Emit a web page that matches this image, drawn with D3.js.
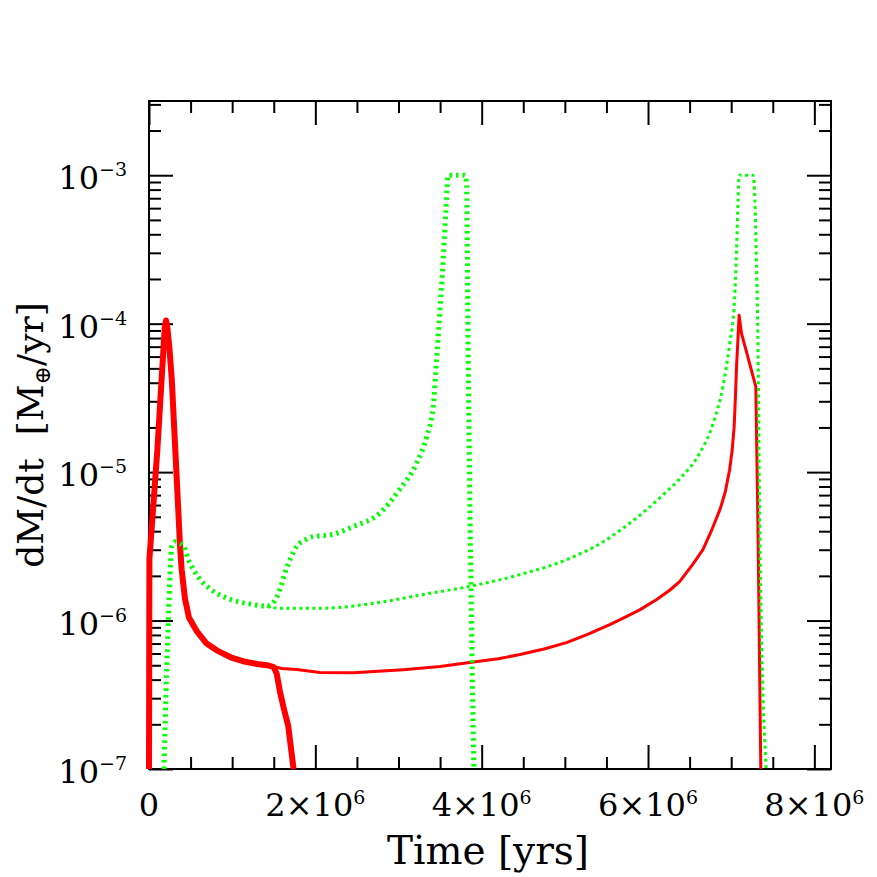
<!DOCTYPE html>
<html>
<head>
<meta charset="utf-8">
<script src="https://cdn.jsdelivr.net/npm/d3@7"></script>
<style>
  body { margin: 0; background: #fff; }
  svg text { font-family: 'DejaVu Serif', serif; fill: #000; }
</style>
</head>
<body>
<script>
// time in units of 10^6 yr, accretion rate in Earth masses per yr
const redThickTime = [0, 0.005, 0.10, 0.172, 0.19, 0.205, 0.22, 0.244, 0.274, 0.334, 0.373, 0.393, 0.433, 0.48, 0.573, 0.693, 0.814, 1.0, 1.14, 1.3, 1.42, 1.5, 1.535, 1.575, 1.625, 1.674, 1.738];
const redThickRate = [1e-7, 2.6e-6, 1.4e-5, 6.5e-5, 9.5e-5, 1.05e-4, 9.5e-5, 7.0e-5, 4.2e-5, 8.9e-6, 3.2e-6, 2.2e-6, 1.4e-6, 1.05e-6, 8.5e-7, 7.0e-7, 6.3e-7, 5.6e-7, 5.3e-7, 5.1e-7, 5.0e-7, 4.85e-7, 4.4e-7, 3.3e-7, 2.5e-7, 1.95e-7, 1e-7];

const redThinTime = [1.42, 1.6, 1.775, 2.055, 2.456, 3.057, 3.5, 3.9, 4.2, 4.46, 4.75, 5.02, 5.28, 5.54, 5.72, 5.9, 6.1, 6.26, 6.38, 6.54, 6.66, 6.76, 6.87, 6.93, 6.98, 7.01, 7.035, 7.05, 7.064, 7.08, 7.095, 7.124, 7.296, 7.323, 7.356];
const redThinRate = [5.0e-7, 4.75e-7, 4.68e-7, 4.46e-7, 4.45e-7, 4.67e-7, 4.9e-7, 5.25e-7, 5.53e-7, 5.9e-7, 6.43e-7, 7.1e-7, 8.1e-7, 9.4e-7, 1.05e-6, 1.18e-6, 1.38e-6, 1.6e-6, 1.83e-6, 2.4e-6, 3.0e-6, 4.0e-6, 5.7e-6, 7.4e-6, 1.03e-5, 1.38e-5, 2.0e-5, 3.1e-5, 5.1e-5, 7.6e-5, 1.14e-4, 8.6e-5, 3.77e-5, 3.9e-6, 1e-7];

const greenThickTime = [0.18, 0.193, 0.233, 0.274, 0.314, 0.375, 0.415, 0.47, 0.535, 0.63, 0.737, 0.98, 1.22, 1.42, 1.54, 1.66, 1.775, 1.88, 1.974, 2.178, 2.456, 2.776, 3.01, 3.218, 3.338, 3.417, 3.458, 3.498, 3.537, 3.57, 3.597, 3.7, 3.798, 3.818, 3.838, 3.867, 3.906];
const greenThickRate = [1e-7, 1.93e-7, 1.01e-6, 3.16e-6, 3.4e-6, 3.3e-6, 3.2e-6, 2.6e-6, 2.2e-6, 1.85e-6, 1.63e-6, 1.39e-6, 1.29e-6, 1.25e-6, 1.45e-6, 2.3e-6, 3.15e-6, 3.5e-6, 3.68e-6, 3.77e-6, 4.3e-6, 5.3e-6, 7.6e-6, 1.15e-5, 1.73e-5, 2.76e-5, 5.7e-5, 1.23e-4, 2.68e-4, 5.8e-4, 1e-3, 1e-3, 1e-3, 8.8e-4, 5.7e-5, 2.57e-6, 1e-7];

const greenThinTime = [1.42, 1.57, 2.055, 2.857, 3.3, 3.858, 4.46, 5.02, 5.5, 5.75, 5.98, 6.2, 6.38, 6.62, 6.78, 6.9, 6.98, 7.04, 7.064, 7.083, 7.095, 7.263, 7.28, 7.3, 7.323, 7.344, 7.42];
const greenThinRate = [1.25e-6, 1.21e-6, 1.21e-6, 1.35e-6, 1.5e-6, 1.7e-6, 2.04e-6, 2.57e-6, 3.5e-6, 4.4e-6, 5.57e-6, 7.2e-6, 9.0e-6, 1.34e-5, 2.1e-5, 3.76e-5, 7.2e-5, 1.44e-4, 3.1e-4, 6.8e-4, 1e-3, 1e-3, 8e-4, 3.1e-4, 6.6e-5, 3.9e-6, 1e-7];

// tick labels
const xTickValues = [0, 2, 4, 6, 8];
const xTickMantissas = ['0', '2', '4', '6', '8'];
const yTickExponents = [-7, -6, -5, -4, -3];

const render = () => {
  const width = 877;
  const height = 877;
  const margin = { top: 101, right: 46, bottom: 108, left: 149 };
  const innerWidth = width - margin.left - margin.right;
  const innerHeight = height - margin.top - margin.bottom;

  const svg = d3.select('body')
    .append('svg')
    .attr('width', width)
    .attr('height', height);

  const plot = svg.append('g')
    .attr('transform', `translate(${margin.left}, ${margin.top})`);

  const xScale = d3.scaleLinear()
    .domain([0, 8.2])
    .range([0, innerWidth]);

  const yScale = d3.scaleLog()
    .domain([1e-7, Math.pow(10, -2.5)])
    .range([innerHeight, 0]);

  // minor tick positions
  const xMinor = d3.range(0.5, 8.2, 0.5).filter(v => v % 2 !== 0);
  const yMinor = [];
  yTickExponents.forEach(e => {
    for (let k = 2; k <= 9; k++) {
      const v = k * Math.pow(10, e);
      if (v <= Math.pow(10, -2.5)) yMinor.push(v);
    }
  });

  const addAxis = (axis, transform) => {
    const g = plot.append('g').attr('transform', transform).call(axis);
    g.select('.domain').remove();
    g.selectAll('line').attr('stroke', '#000').attr('stroke-width', 2);
    g.selectAll('text').remove();
  };

  addAxis(d3.axisBottom(xScale).tickValues(xTickValues).tickSize(-24), `translate(0, ${innerHeight})`);
  addAxis(d3.axisBottom(xScale).tickValues(xMinor).tickSize(-12), `translate(0, ${innerHeight})`);
  addAxis(d3.axisTop(xScale).tickValues(xTickValues).tickSize(-24), 'translate(0, 0)');
  addAxis(d3.axisTop(xScale).tickValues(xMinor).tickSize(-12), 'translate(0, 0)');
  const yMajor = yTickExponents.map(e => Math.pow(10, e));
  addAxis(d3.axisLeft(yScale).tickValues(yMajor).tickSize(-24), 'translate(0, 0)');
  addAxis(d3.axisLeft(yScale).tickValues(yMinor).tickSize(-12), 'translate(0, 0)');
  addAxis(d3.axisRight(yScale).tickValues(yMajor).tickSize(-24), `translate(${innerWidth}, 0)`);
  addAxis(d3.axisRight(yScale).tickValues(yMinor).tickSize(-12), `translate(${innerWidth}, 0)`);

  // frame
  plot.append('rect')
    .attr('width', innerWidth)
    .attr('height', innerHeight)
    .attr('fill', 'none')
    .attr('stroke', '#000')
    .attr('stroke-width', 2);

  // x tick labels
  xTickValues.forEach((v, i) => {
    const t = plot.append('text')
      .attr('x', xScale(v))
      .attr('y', innerHeight + 47)
      .attr('text-anchor', 'middle')
      .style('font-size', '32px');
    if (v === 0) {
      t.text(xTickMantissas[i]);
    } else {
      t.append('tspan').text(xTickMantissas[i] + '\u00d710');
      t.append('tspan').attr('dy', -12).style('font-size', '19px').text('6');
    }
  });

  // y tick labels
  yTickExponents.forEach(e => {
    const t = plot.append('text')
      .attr('x', -22)
      .attr('y', yScale(Math.pow(10, e)) + 14)
      .attr('text-anchor', 'end')
      .style('font-size', '32px');
    t.append('tspan').text('10');
    t.append('tspan').attr('dy', -13).style('font-size', '19px').text('\u2212' + Math.abs(e));
  });

  // axis titles
  plot.append('text')
    .attr('x', innerWidth / 2 - 2)
    .attr('y', innerHeight + 95)
    .attr('text-anchor', 'middle')
    .style('font-size', '39px')
    .text('Time [yrs]');

  const yTitle = svg.append('text')
    .attr('transform', `translate(43, ${margin.top + innerHeight / 2}) rotate(-90)`)
    .attr('text-anchor', 'middle')
    .style('font-size', '36px');
  yTitle.append('tspan').text('dM/dt\u00a0\u00a0[M');
  yTitle.append('tspan').attr('dy', 7).style('font-size', '22px').text('\u2295');
  yTitle.append('tspan').attr('dy', -7).text('/yr]');

  const lineWith = curve => d3.line()
    .x(d => xScale(d[0]))
    .y(d => yScale(d[1]))
    .curve(curve);

  const curves = [
    { t: redThickTime, v: redThickRate, color: '#ff0000', w: 6, dash: null, curve: d3.curveLinear },
    { t: redThinTime, v: redThinRate, color: '#ff0000', w: 3, dash: null, curve: d3.curveLinear },
    { t: greenThickTime, v: greenThickRate, color: '#00ff00', w: 5, dash: '2.5,4', curve: d3.curveMonotoneX },
    { t: greenThinTime, v: greenThinRate, color: '#00ff00', w: 3, dash: '3,3.5', curve: d3.curveMonotoneX }
  ];

  curves.forEach(c => {
    plot.append('path')
      .datum(d3.zip(c.t, c.v))
      .attr('d', lineWith(c.curve))
      .attr('fill', 'none')
      .attr('stroke', c.color)
      .attr('stroke-width', c.w)
      .attr('stroke-linejoin', 'round')
      .attr('stroke-dasharray', c.dash);
  });
};

render();
</script>
</body>
</html>
